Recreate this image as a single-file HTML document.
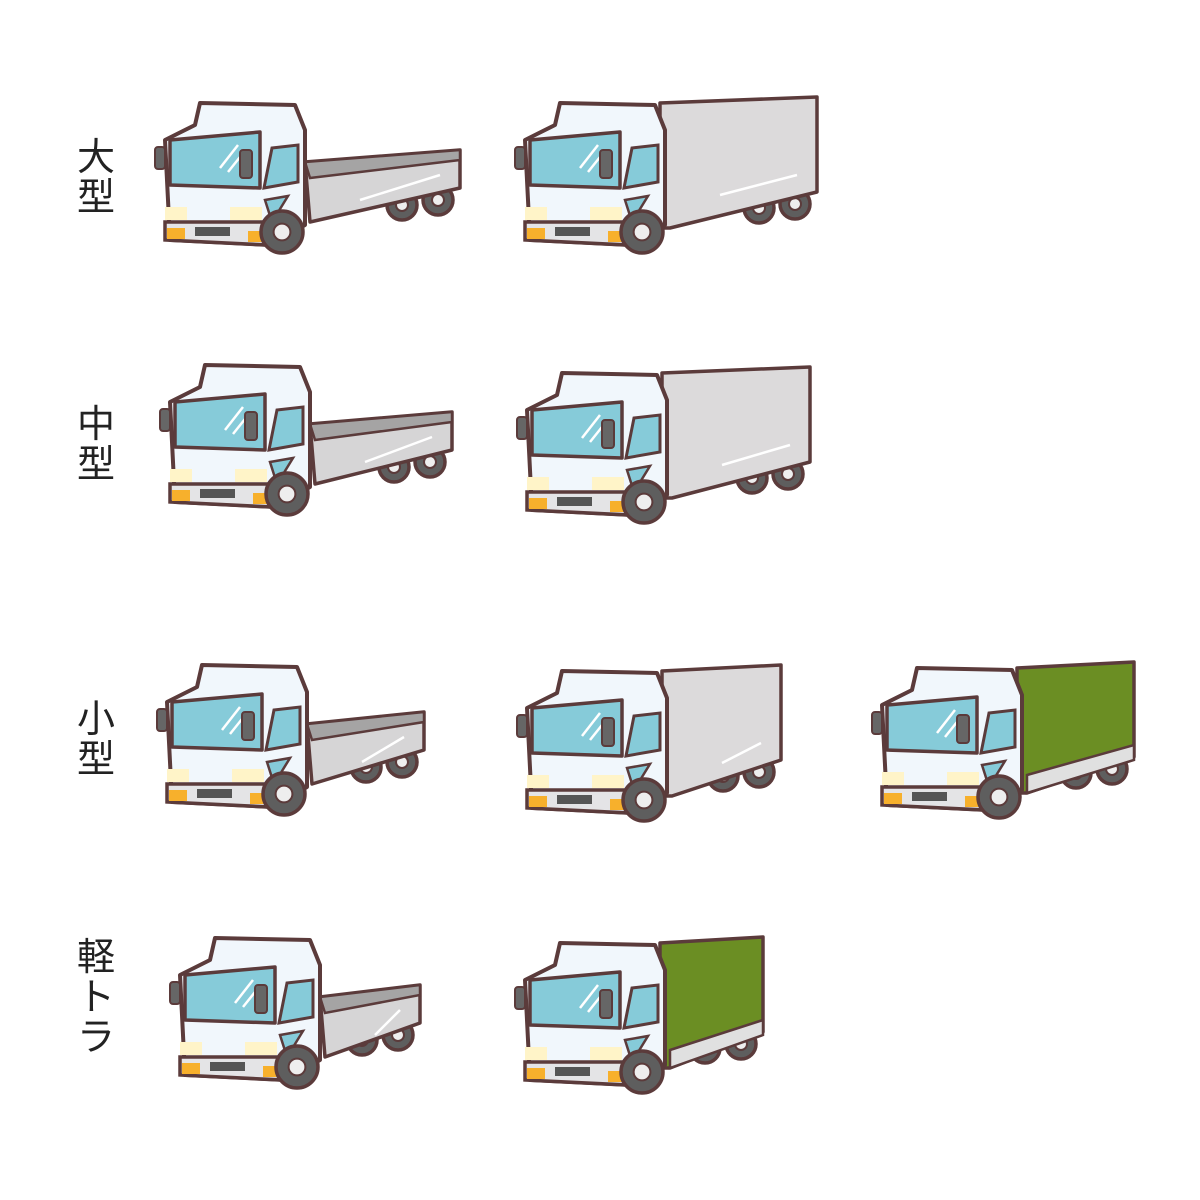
<!DOCTYPE html>
<html><head><meta charset="utf-8"><style>
html,body{margin:0;padding:0;background:#fff;width:1200px;height:1200px;overflow:hidden}
.lbl{position:absolute;left:76px;width:40px;font-family:"Liberation Sans","Noto Sans CJK JP",sans-serif;font-size:38px;line-height:40px;color:#222;text-align:center}
svg{position:absolute;left:0;top:0}
</style></head><body>
<div class="lbl" style="top:138px">大<br>型</div>
<div class="lbl" style="top:405px">中<br>型</div>
<div class="lbl" style="top:700px">小<br>型</div>
<div class="lbl" style="top:938px">軽<br>ト<br>ラ</div>
<svg id="s" width="1200" height="1200"></svg>
<script>
const kinds=['flat','box','flat','box','flat','box','canopy','flat','canopy'];
const ox=[160,520,165,522,162,522,877,175,520];
const oy=[100,100,362,370,662,668,665,935,940];
const bedW=[155,152,142,143,117,114,112,100,98];
const S='#5b3b3b',NS='http://www.w3.org/2000/svg';
const svg=document.getElementById('s');
function el(p,tag,a){const e=document.createElementNS(NS,tag);for(const k in a)e.setAttribute(k,a[k]);p.appendChild(e);return e;}
function wheel(g,cx,cy,r){el(g,'circle',{cx,cy,r,fill:'#5e5e5e',stroke:S,'stroke-width':3.5});el(g,'circle',{cx,cy,r:r*0.4,fill:'#eee',stroke:S,'stroke-width':2});}
for(let i=0;i<kinds.length;i++){
 const g=el(svg,'g',{transform:`translate(${ox[i]},${oy[i]})`});
 
 
 const W=bedW[i],R=145+W;
 if(kinds[i]==='flat'){
  wheel(g,R-58,105,15);wheel(g,R-22,100,15);
  el(g,'polygon',{points:`145,62 ${R},50 ${R},88 150,122`,fill:'#d6d5d6',stroke:S,'stroke-width':3.5,'stroke-linejoin':'round'});
  el(g,'polygon',{points:`145,62 ${R},50 ${R},60 150,78`,fill:'#a5a4a4',stroke:S,'stroke-width':2.5});
  el(g,'line',{x1:200,y1:100,x2:R-20,y2:75,stroke:'#fff','stroke-width':2.5});
 } else {
  wheel(g,R-58,108,15);wheel(g,R-22,104,15);
  const col=kinds[i]==='box'?'#dcdadb':'#6b8e23';
  el(g,'polygon',{points:`140,3 ${R},-3 ${R},92 150,128 140,128`,fill:col,stroke:S,'stroke-width':3.5,'stroke-linejoin':'round'});
  if(kinds[i]==='canopy')el(g,'polygon',{points:`150,110 ${R},80 ${R},95 150,128`,fill:'#e0e0e0',stroke:S,'stroke-width':2.5});
  else el(g,'line',{x1:200,y1:95,x2:R-20,y2:75,stroke:'#fff','stroke-width':2.5});
 }
 // cab roof + side
 el(g,'polygon',{points:'40,3 135,5 145,30 145,125 110,145 10,140 5,40 35,25',fill:'#f1f7fc',stroke:S,'stroke-width':4,'stroke-linejoin':'round'});
 el(g,'polygon',{points:'10,40 100,32 100,88 10,85',fill:'#86cbd9',stroke:S,'stroke-width':3.5,'stroke-linejoin':'round'});
 el(g,'line',{x1:60,y1:68,x2:78,y2:45,stroke:'#fff','stroke-width':2.5});
 el(g,'line',{x1:68,y1:72,x2:84,y2:52,stroke:'#fff','stroke-width':2.5});
 el(g,'polygon',{points:'112,48 138,45 138,82 104,88',fill:'#86cbd9',stroke:S,'stroke-width':3});
 el(g,'polygon',{points:'105,100 128,96 112,122',fill:'#86cbd9',stroke:S,'stroke-width':2.5});
 el(g,'rect',{x:-5,y:47,width:10,height:22,rx:3,fill:'#666',stroke:S,'stroke-width':2});
 el(g,'rect',{x:80,y:50,width:12,height:28,rx:3,fill:'#666',stroke:S,'stroke-width':2});
 el(g,'rect',{x:5,y:107,width:22,height:13,fill:'#fff4c8'});
 el(g,'rect',{x:70,y:107,width:32,height:13,fill:'#fff4c8'});
 el(g,'polygon',{points:'5,122 108,122 108,145 5,140',fill:'#e4e4e6',stroke:S,'stroke-width':3.5});
 el(g,'rect',{x:7,y:128,width:18,height:11,fill:'#f7b02c'});
 el(g,'rect',{x:88,y:131,width:18,height:11,fill:'#f7b02c'});
 el(g,'rect',{x:35,y:127,width:35,height:9,fill:'#555'});
 wheel(g,122,132,21);
}
</script>
</body></html>
